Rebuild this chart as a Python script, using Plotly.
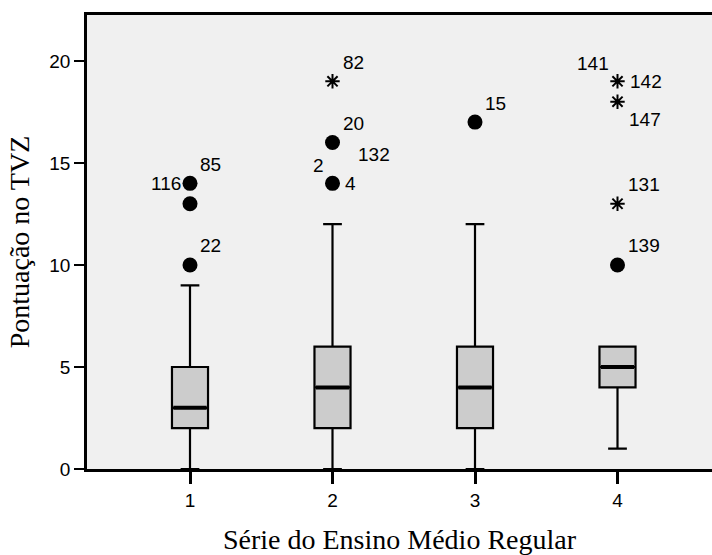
import plotly.graph_objects as go

# ---- data ----
categories = ["1", "2", "3", "4"]
q1 = [2, 2, 2, 4]
median = [3, 4, 4, 5]
q3 = [5, 6, 6, 6]
lower_whisker = [0, 0, 0, 1]
upper_whisker = [9, 12, 12, 6]

# outliers (circles) and extremes (stars)
circle_cat = [1, 1, 1, 2, 2, 3, 4]
circle_val = [14, 13, 10, 16, 14, 17, 10]
star_cat = [2, 4, 4, 4]
star_val = [19, 19, 18, 13]

# case labels: (text, category, value, placement)
label_text = ["116", "85", "22", "82", "20", "2", "4", "132", "15", "141", "142", "147", "131", "139"]
label_cat = [1, 1, 1, 2, 2, 2, 2, 2, 3, 4, 4, 4, 4, 4]
label_val = [14, 14, 10, 19, 16, 14, 14, 14, 17, 19, 19, 18, 13, 10]
label_place = ["l", "ur", "ur", "ur", "ur", "ul", "r", "ur2", "ur", "ul", "r", "dr", "ur", "ur"]

# ---- styles ----
placements = {
    "l": dict(xanchor="right", xshift=-7, yshift=0),
    "ur": dict(xanchor="left", xshift=8, yshift=19),
    "ul": dict(xanchor="right", xshift=-7, yshift=18),
    "r": dict(xanchor="left", xshift=10, yshift=0),
    "ur2": dict(xanchor="left", xshift=23, yshift=29),
    "dr": dict(xanchor="left", xshift=9, yshift=-18),
}
BOX_W = 0.253
SANS = "Liberation Sans, Arial, sans-serif"
SERIF = "Liberation Serif, Times New Roman, serif"

xnum = [int(c) for c in categories]

fig = go.Figure()
fig.add_trace(go.Box(
    x=xnum, q1=q1, median=median, q3=q3,
    lowerfence=lower_whisker, upperfence=upper_whisker,
    width=BOX_W, whiskerwidth=0.52,
    fillcolor="#CCCCCC", line=dict(color="#000000", width=2.2),
    boxpoints=False, showlegend=False, hoverinfo="skip",
))
# thicker median lines
for xc, m in zip(xnum, median):
    fig.add_trace(go.Scatter(
        x=[xc - BOX_W / 2 + 0.01, xc + BOX_W / 2 - 0.01], y=[m, m], mode="lines",
        line=dict(color="#000000", width=4), showlegend=False, hoverinfo="skip",
    ))
fig.add_trace(go.Scatter(
    x=circle_cat, y=circle_val, mode="markers",
    marker=dict(symbol="circle", size=15, color="#000000"),
    showlegend=False, cliponaxis=False,
))
fig.add_trace(go.Scatter(
    x=star_cat, y=star_val, mode="markers",
    marker=dict(symbol="asterisk-open", size=12, color="#000000",
                line=dict(color="#000000", width=2)),
    showlegend=False, cliponaxis=False,
))
for t, c, v, p in zip(label_text, label_cat, label_val, label_place):
    fig.add_annotation(x=c, y=v, xref="x", yref="y", text=t, showarrow=False,
                       yanchor="middle", font=dict(family=SANS, size=19, color="#000000"),
                       **placements[p])

fig.update_layout(
    width=712, height=555,
    margin=dict(l=87, r=0, t=15, b=86),
    paper_bgcolor="#FFFFFF", plot_bgcolor="#F0F0F0",
    showlegend=False,
)
fig.update_xaxes(
    range=[1 - 103 / 142.5, 1 + 522 / 142.5],
    tickvals=xnum, ticktext=categories,
    ticks="outside", ticklen=12, tickwidth=2.5, tickcolor="#000000",
    showline=True, linecolor="#000000", linewidth=2.5, mirror=True,
    showgrid=False, zeroline=False,
    tickfont=dict(family=SANS, size=19, color="#000000"),
    title=dict(text="Série do Ensino Médio Regular", standoff=22,
               font=dict(family=SERIF, size=28, color="#000000")),
)
fig.update_yaxes(
    range=[0, 22.25],
    tickvals=[0, 5, 10, 15, 20],
    ticks="outside", ticklen=10, tickwidth=2, tickcolor="#000000",
    showline=True, linecolor="#000000", linewidth=2.5,
    showgrid=False, zeroline=False,
    tickfont=dict(family=SANS, size=19, color="#000000"),
    title=dict(text="Pontuação no TVZ", standoff=12,
               font=dict(family=SERIF, size=28, color="#000000")),
)
fig.write_html("out.html")
